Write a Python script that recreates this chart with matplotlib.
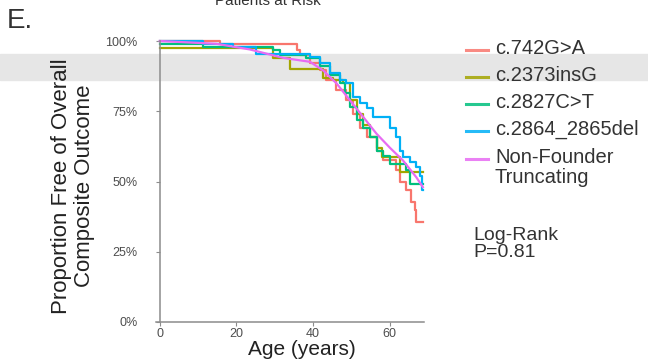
import matplotlib
matplotlib.use("Agg")
import matplotlib.pyplot as plt
from matplotlib.lines import Line2D
from matplotlib.patches import Rectangle

plt.rcParams['font.family'] = ['Liberation Sans', 'DejaVu Sans']

W, H = 648, 362

groups = ["c.742G>A", "c.2373insG", "c.2827C>T", "c.2864_2865del",
          "Non-Founder\nTruncating"]
colors = ["#F8766D", "#A3A500", "#00BF7D", "#00B0F6", "#E76BF3"]

# Kaplan-Meier style curves (age in years, proportion)
red_age = [0, 15.7, 35.7, 36.6, 39.2, 41.8, 43.5, 46.1, 48.7, 50.5, 52.2, 54.0,
           56.6, 58.3, 61.8, 62.7, 64.4, 65.7, 66.6, 67.0, 68.7]
red_surv = [1.0, 0.99, 0.968, 0.95, 0.92, 0.896, 0.86, 0.825, 0.79, 0.74, 0.69,
            0.66, 0.61, 0.575, 0.54, 0.50, 0.47, 0.426, 0.40, 0.355, 0.355]

olive_age = [0, 29.6, 33.9, 42.6, 45.3, 47.9, 49.6, 51.4, 53.1, 54.8, 56.6,
             57.9, 62.7, 68.7]
olive_surv = [0.975, 0.94, 0.90, 0.87, 0.86, 0.85, 0.79, 0.74, 0.70, 0.66,
              0.62, 0.587, 0.533, 0.533]

green_age = [0, 11.3, 29.6, 31.3, 38.3, 41.8, 44.4, 47.0, 48.3, 49.6, 51.4,
             53.1, 54.8, 56.6, 58.3, 60.1, 64.4, 65.3, 68.7]
green_surv = [0.99, 0.98, 0.968, 0.95, 0.94, 0.91, 0.88, 0.85, 0.815, 0.765,
              0.72, 0.69, 0.66, 0.61, 0.59, 0.564, 0.54, 0.49, 0.49]

blue_age = [0, 11.3, 19.1, 25.2, 39.2, 41.8, 44.4, 47.0, 48.7, 50.5, 52.2,
            54.0, 55.7, 60.1, 61.8, 62.7, 63.5, 65.3, 67.0, 67.9, 68.5, 68.7]
blue_surv = [1.0, 0.99, 0.98, 0.955, 0.944, 0.92, 0.885, 0.86, 0.85, 0.80,
             0.78, 0.76, 0.73, 0.69, 0.66, 0.61, 0.586, 0.57, 0.55, 0.52, 0.47,
             0.47]

pink_age = [0, 14.8, 23.5, 32.2, 39.2, 42.6, 46.1, 49.6, 53.1, 56.6, 60.1,
            63.5, 67.0, 68.7]
pink_surv = [1.0, 0.99, 0.97, 0.94, 0.926, 0.896, 0.85, 0.79, 0.73, 0.67,
             0.62, 0.575, 0.515, 0.48]

y_ticks = [0, 0.25, 0.5, 0.75, 1.0]
y_labels = ["0%", "25%", "50%", "75%", "100%"]
x_ticks = [0, 20, 40, 60]


def fx(x):
    return x / W


def fy(y):
    return 1 - y / H


fig = plt.figure(figsize=(W / 100, H / 100), dpi=100)

# grey banner across the screenshot, behind everything
fig.patches.append(Rectangle((0, fy(80)), 1, (80 - 54) / H, transform=fig.transFigure,
                             color="#E6E6E6", zorder=-10))

ax = fig.add_axes([fx(156), fy(322), 268 / W, 281 / H])
ax.patch.set_alpha(0)

curves = [(red_age, red_surv), (olive_age, olive_surv), (green_age, green_surv),
          (blue_age, blue_surv)]
for (a, s), c in zip(curves, colors[:4]):
    ax.plot(a, s, drawstyle="steps-post", color=c, lw=1.6, clip_on=False)
ax.plot(pink_age, pink_surv, color=colors[4], lw=1.6, clip_on=False)

ax.set_xlim(-1, 69)
ax.set_ylim(0, 1)
ax.spines["left"].set_position(("data", 0))
for s in ["top", "right"]:
    ax.spines[s].set_visible(False)
for s in ["left", "bottom"]:
    ax.spines[s].set_color("#8C8C8C")
    ax.spines[s].set_linewidth(1.1)
ax.set_yticks(y_ticks)
ax.set_yticklabels(y_labels)
ax.set_xticks(x_ticks)
ax.tick_params(axis="y", length=3, pad=13, labelsize=9, colors="#8C8C8C",
               labelcolor="#4D4D4D")
ax.tick_params(axis="x", length=3, pad=1, labelsize=9, colors="#8C8C8C",
               labelcolor="#4D4D4D")

fig.text(fx(302), fy(355), "Age (years)", ha="center", va="baseline",
         fontsize=15, color="#222222")
fig.text(fx(73), fy(186), "Proportion Free of Overall\nComposite Outcome",
         rotation=90, ha="center", va="center", fontsize=16, color="#222222",
         linespacing=1.1)

fig.text(fx(7), fy(21), "E.", ha="left", va="center", fontsize=20, color="#333333")
fig.text(fx(268), fy(1), "Patients at Risk", ha="center", va="center",
         fontsize=11, color="#333333")

# legend
rows = [50, 77, 104, 131, 159]
for lab, c, y in zip(groups, colors, rows):
    fig.add_artist(Line2D([fx(466), fx(488)], [fy(y), fy(y)], color=c, lw=2.2,
                          alpha=0.85, transform=fig.transFigure))
    fig.text(fx(495), fy(y - 11), lab, ha="left", va="top", fontsize=14.5,
             color="#333333", linespacing=1.05)

fig.text(fx(473), fy(227), "Log-Rank\nP=0.81", ha="left", va="top",
         fontsize=14, color="#333333", linespacing=1.0)

fig.savefig("out.png", dpi=100)
